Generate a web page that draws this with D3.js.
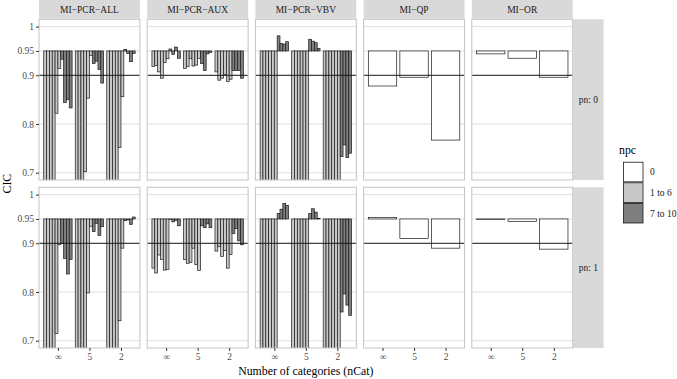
<!DOCTYPE html>
<html><head><meta charset="utf-8">
<script src="https://cdn.jsdelivr.net/npm/d3@7"></script>
<style>
body{margin:0;background:#fff}
svg{display:block}
text{font-family:"Liberation Serif","DejaVu Serif",serif}
</style>
</head><body>
<svg id="c" width="677" height="379"></svg>
<script>
// ---------- data ----------
const methods = ["MI\u2212PCR\u2212ALL","MI\u2212PCR\u2212AUX","MI\u2212PCR\u2212VBV","MI\u2212QP","MI\u2212OR"];
const pnLevels = ["pn: 0","pn: 1"];
const nCatLabels = ["\u221e","5","2"];
const npcPCR = [1,2,3,4,5,6,7,8,9,10];
const npcSingle = [0];
const yTicks = [0.7,0.8,0.9,0.95,1];
const legendLabels = ["0","1 to 6","7 to 10"];
const refLine = 0.9;
const nominal = 0.95;

// CIC per nCat group (rows) and npc (columns)
const pcrAll_pn0 = [
  [0.60,0.60,0.60,0.60,0.822,0.914,0.933,0.844,0.850,0.833],
  [0.60,0.60,0.60,0.702,0.853,0.941,0.924,0.929,0.912,0.884],
  [0.60,0.60,0.60,0.60,0.752,0.856,0.953,0.945,0.928,0.945]];
const pcrAll_pn1 = [
  [0.60,0.60,0.60,0.60,0.715,0.897,0.900,0.869,0.837,0.867],
  [0.60,0.60,0.60,0.60,0.798,0.935,0.924,0.941,0.916,0.934],
  [0.60,0.60,0.60,0.60,0.741,0.890,0.947,0.948,0.939,0.954]];
const pcrAux_pn0 = [
  [0.918,0.920,0.907,0.894,0.926,0.934,0.954,0.943,0.958,0.935],
  [0.914,0.918,0.934,0.919,0.921,0.935,0.924,0.910,0.944,0.947],
  [0.907,0.890,0.894,0.902,0.887,0.892,0.910,0.910,0.910,0.894]];
const pcrAux_pn1 = [
  [0.849,0.839,0.876,0.867,0.845,0.846,0.949,0.944,0.947,0.936],
  [0.867,0.859,0.861,0.890,0.856,0.844,0.936,0.932,0.940,0.932],
  [0.884,0.893,0.873,0.885,0.849,0.877,0.920,0.930,0.905,0.897]];
const pcrVbv_pn0 = [
  [0.60,0.60,0.60,0.60,0.60,0.60,0.981,0.965,0.964,0.969],
  [0.60,0.60,0.60,0.60,0.60,0.60,0.974,0.970,0.967,0.955],
  [0.60,0.60,0.60,0.60,0.60,0.60,0.733,0.757,0.731,0.740]];
const pcrVbv_pn1 = [
  [0.60,0.60,0.60,0.60,0.60,0.60,0.961,0.970,0.982,0.978],
  [0.60,0.60,0.60,0.60,0.60,0.60,0.961,0.971,0.964,0.951],
  [0.60,0.60,0.60,0.60,0.60,0.60,0.759,0.796,0.773,0.752]];
const qp_pn0 = [[0.878],[0.896],[0.767]];
const qp_pn1 = [[0.953],[0.910],[0.890]];
const or_pn0 = [[0.944],[0.935],[0.896]];
const or_pn1 = [[0.949],[0.945],[0.888]];

const panelData = [
  [pcrAll_pn0, pcrAux_pn0, pcrVbv_pn0, qp_pn0, or_pn0],
  [pcrAll_pn1, pcrAux_pn1, pcrVbv_pn1, qp_pn1, or_pn1]];
const panelNpc = [npcPCR, npcPCR, npcPCR, npcSingle, npcSingle];

// ---------- layout ----------
const svg = d3.select("#c");
const L = 39, R = 572.7, gapX = 7.3;
const pw = (R - L - gapX*4)/5;
const rowTop = [19.3, 187.3], ph = 160.7;
const stripH = 19.3, rStripW = 30.6;
const smallFont = 9.5, bigFont = 11.8;

const fillFor = n => n === 0 ? "#ffffff" : (n <= 6 ? "#c8c8c8" : "#7f7f7f");
const legendFills = ["#ffffff","#c8c8c8","#7f7f7f"];

let clipId = 0;
for (let r = 0; r < 2; r++) {
  const y = d3.scaleLinear().domain([0.685, 1.015]).range([rowTop[r] + ph, rowTop[r]]);
  for (let c = 0; c < 5; c++) {
    const px = L + c*(pw + gapX);
    const x = d3.scalePoint().domain(nCatLabels).range([px, px + pw]).padding(0.6);
    const step = x.step();
    const inner = d3.scaleBand().domain(panelNpc[c]).range([-0.45*step, 0.45*step]).padding(0);
    const g = svg.append("g");
    // grid
    g.selectAll("line.grid").data(yTicks).join("line")
      .attr("x1", px).attr("x2", px + pw)
      .attr("y1", d => y(d)).attr("y2", d => y(d))
      .attr("stroke", "#dedede").attr("stroke-width", 1);
    // clip
    const id = "clip" + (clipId++);
    svg.append("clipPath").attr("id", id).append("rect")
      .attr("x", px).attr("y", rowTop[r]).attr("width", pw).attr("height", ph);
    const bars = [];
    panelData[r][c].forEach((grp, gi) => grp.forEach((v, ni) => {
      bars.push({cat: nCatLabels[gi], npc: panelNpc[c][ni], v});
    }));
    g.append("g").attr("clip-path", `url(#${id})`)
      .selectAll("rect").data(bars).join("rect")
      .attr("x", d => x(d.cat) + inner(d.npc))
      .attr("width", inner.bandwidth())
      .attr("y", d => y(Math.max(d.v, nominal)))
      .attr("height", d => Math.abs(y(d.v) - y(nominal)))
      .attr("fill", d => fillFor(d.npc))
      .attr("stroke", "#1a1a1a").attr("stroke-width", 0.7);
    // reference line
    g.append("line").attr("x1", px).attr("x2", px + pw)
      .attr("y1", y(refLine)).attr("y2", y(refLine))
      .attr("stroke", "#1a1a1a").attr("stroke-width", 1);
    // border
    g.append("rect").attr("x", px).attr("y", rowTop[r]).attr("width", pw).attr("height", ph)
      .attr("fill", "none").attr("stroke", "#c4c4c4").attr("stroke-width", 1);

    if (r === 0) {
      svg.append("rect").attr("x", px).attr("y", 0).attr("width", pw).attr("height", stripH - 0.5)
        .attr("fill", "#d9d9d9");
      svg.append("text").attr("x", px + pw/2).attr("y", 12.8).attr("text-anchor", "middle")
        .attr("font-size", smallFont).attr("fill", "#1a1a1a").text(methods[c]);
    }
    if (c === 0) {
      const ax = svg.append("g").attr("transform", `translate(${px},0)`)
        .call(d3.axisLeft(y).tickValues(yTicks).tickFormat(d3.format("")).tickSize(3).tickPadding(2));
      ax.select(".domain").remove();
      ax.selectAll("line").attr("stroke", "#333");
      ax.selectAll("text").attr("font-size", smallFont).attr("fill", "#4d4d4d");
    }
    if (r === 1) {
      const ax = svg.append("g").attr("transform", `translate(0,${rowTop[r] + ph})`)
        .call(d3.axisBottom(x).tickSize(3).tickPadding(2));
      ax.select(".domain").remove();
      ax.selectAll("line").attr("stroke", "#333");
      ax.selectAll("text").attr("font-size", smallFont).attr("fill", "#4d4d4d");
    }
  }
  // right strip
  svg.append("rect").attr("x", R + 0.3).attr("y", rowTop[r]).attr("width", rStripW).attr("height", ph)
    .attr("fill", "#d9d9d9");
  svg.append("text").attr("x", R + 0.3 + rStripW/2).attr("y", rowTop[r] + ph/2 + 3.3)
    .attr("text-anchor", "middle").attr("font-size", smallFont).attr("fill", "#1a1a1a").text(pnLevels[r]);
}

// axis titles
svg.append("text").attr("x", (L + R)/2).attr("y", 375).attr("text-anchor", "middle")
  .attr("font-size", bigFont).attr("fill", "#000").text("Number of categories (nCat)");
svg.append("text").attr("transform", `translate(10.5,${(rowTop[0] + rowTop[1] + ph)/2}) rotate(-90)`)
  .attr("text-anchor", "middle").attr("font-size", bigFont).attr("fill", "#000").text("CIC");

// legend
const lg = svg.append("g");
lg.append("text").attr("x", 619).attr("y", 154).attr("font-size", bigFont).attr("fill", "#000").text("npc");
const keyY = d3.scaleBand().domain(legendLabels).range([161.7, 223.5]);
lg.selectAll("rect").data(legendLabels).join("rect")
  .attr("x", 623.5).attr("y", d => keyY(d) + 0.5).attr("width", 19.5).attr("height", keyY.bandwidth() - 1)
  .attr("fill", (d, i) => legendFills[i]).attr("stroke", "#1a1a1a").attr("stroke-width", 0.8);
lg.selectAll("text.lab").data(legendLabels).join("text").attr("class", "lab")
  .attr("x", 650).attr("y", d => keyY(d) + keyY.bandwidth()/2 + 3.3)
  .attr("font-size", smallFont).attr("fill", "#1a1a1a").text(d => d);
</script>
</body></html>
